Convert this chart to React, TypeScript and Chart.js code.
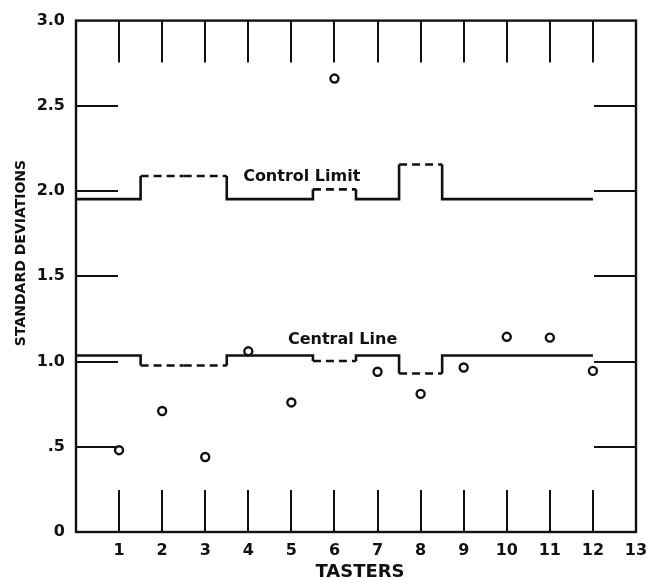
import React, { useEffect, useRef } from 'react';
import { Chart, registerables } from 'chart.js';

Chart.register(...registerables);

// ---- Data ----
const tasters = [1, 2, 3, 4, 5, 6, 7, 8, 9, 10, 11, 12];
const tasterSD = [0.48, 0.71, 0.44, 1.06, 0.76, 2.66, 0.94, 0.81, 0.965, 1.145, 1.14, 0.945];
const controlLimit = [1.953, 2.088, 2.088, 1.953, 1.953, 2.01, 1.953, 2.156, 1.953, 1.953, 1.953, 1.953];
const centralLine = [1.035, 0.977, 0.977, 1.035, 1.035, 1.003, 1.035, 0.93, 1.035, 1.035, 1.035, 1.035];
const dashedTaster = [false, true, true, false, false, true, false, true, false, false, false, false];
const xTicks = [1, 2, 3, 4, 5, 6, 7, 8, 9, 10, 11, 12, 13];
const yTicks = [0, 0.5, 1.0, 1.5, 2.0, 2.5, 3.0];
const yTickLabels = ['0', '.5', '1.0', '1.5', '2.0', '2.5', '3.0'];
const innerYTicks = [0.5, 1.0, 1.5, 2.0, 2.5];
const innerXTicks = [1, 2, 3, 4, 5, 6, 7, 8, 9, 10, 11, 12];

const FONT = '"DejaVu Sans", "Liberation Sans", sans-serif';
const INK = '#111';

function buildSteps(vals: number[]) {
  const pts: { x: number; y: number }[] = [];
  const dash: boolean[] = [];
  vals.forEach((v, i) => {
    const x0 = i === 0 ? 0 : tasters[i] - 0.5;
    const x1 = i === vals.length - 1 ? tasters[i] : tasters[i] + 0.5;
    pts.push({ x: x0, y: v }, { x: x1, y: v });
    dash.push(dashedTaster[i], false);
  });
  return { pts, dash };
}

const decor = {
  id: 'decor',
  beforeDatasetsDraw(chart: any) {
    const { ctx, chartArea: a, scales } = chart;
    const xs = scales.x;
    const ys = scales.y;
    const len = 42;
    ctx.save();
    ctx.strokeStyle = INK;
    ctx.lineWidth = 2;
    ctx.lineCap = 'butt';
    ctx.beginPath();
    innerYTicks.forEach((v) => {
      const y = Math.round(ys.getPixelForValue(v));
      ctx.moveTo(a.left, y);
      ctx.lineTo(a.left + len, y);
      ctx.moveTo(a.right - len, y);
      ctx.lineTo(a.right, y);
    });
    innerXTicks.forEach((v) => {
      const x = Math.round(xs.getPixelForValue(v));
      ctx.moveTo(x, a.top);
      ctx.lineTo(x, a.top + len);
      ctx.moveTo(x, a.bottom - len);
      ctx.lineTo(x, a.bottom);
    });
    ctx.stroke();
    ctx.lineWidth = 2.4;
    ctx.strokeRect(a.left, a.top, a.right - a.left, a.bottom - a.top);
    ctx.restore();
  },
  afterDraw(chart: any) {
    const { ctx, scales } = chart;
    const xs = scales.x;
    const ys = scales.y;
    ctx.save();
    ctx.fillStyle = INK;
    // annotations
    ctx.font = `bold 16px ${FONT}`;
    ctx.textAlign = 'left';
    ctx.textBaseline = 'middle';
    ctx.fillText('Control Limit', xs.getPixelForValue(3.88), ys.getPixelForValue(2.085));
    ctx.fillText('Central Line', xs.getPixelForValue(4.92), ys.getPixelForValue(1.13));
    // x title
    ctx.font = `bold 18px ${FONT}`;
    ctx.textAlign = 'center';
    ctx.textBaseline = 'alphabetic';
    ctx.fillText('TASTERS', 360, 577);
    // y title
    ctx.translate(21, 253);
    ctx.rotate(-Math.PI / 2);
    ctx.font = `bold 14px ${FONT}`;
    ctx.textBaseline = 'middle';
    ctx.fillText('STANDARD DEVIATIONS', 0, 0);
    ctx.restore();
  },
};

export default function App() {
  const ref = useRef<HTMLCanvasElement | null>(null);

  useEffect(() => {
    const canvas = ref.current;
    if (!canvas) return;
    const ctl = buildSteps(controlLimit);
    const cen = buildSteps(centralLine);
    const lineDs = (s: { pts: any[]; dash: boolean[] }) => ({
      type: 'line' as const,
      data: s.pts,
      borderColor: INK,
      borderWidth: 2.6,
      pointRadius: 0,
      fill: false,
      tension: 0,
      borderJoinStyle: 'miter' as const,
      borderCapStyle: 'butt' as const,
      segment: {
        borderDash: (c: any) => (s.dash[c.p0DataIndex] ? [8, 5] : []),
      },
    });
    const chart = new Chart(canvas, {
      type: 'scatter',
      data: {
        datasets: [
          lineDs(ctl) as any,
          lineDs(cen) as any,
          {
            type: 'scatter',
            data: tasters.map((x, i) => ({ x, y: tasterSD[i] })),
            pointRadius: 4,
            pointBorderWidth: 2.4,
            pointBackgroundColor: '#fff',
            pointBorderColor: INK,
            showLine: false,
          },
        ],
      },
      options: {
        animation: false,
        responsive: true,
        maintainAspectRatio: false,
        layout: { padding: { left: 0, top: 18, right: 0, bottom: 0 } },
        plugins: { legend: { display: false }, tooltip: { enabled: false } },
        scales: {
          x: {
            type: 'linear',
            min: 0,
            max: 13,
            afterBuildTicks: (s: any) => {
              s.ticks = xTicks.map((v) => ({ value: v }));
            },
            afterFit: (s: any) => {
              s.height = 46;
              s.paddingRight = 11;
              s.paddingLeft = 0;
            },
            grid: { display: false, drawTicks: false },
            border: { display: false },
            ticks: {
              color: INK,
              padding: 9,
              maxRotation: 0,
              autoSkip: false,
              font: { family: FONT, size: 16, weight: 'bold' },
            },
          },
          y: {
            type: 'linear',
            min: 0,
            max: 3,
            afterBuildTicks: (s: any) => {
              s.ticks = yTicks.map((v) => ({ value: v }));
            },
            afterFit: (s: any) => {
              s.width = 76;
            },
            grid: { display: false, drawTicks: false },
            border: { display: false },
            ticks: {
              color: INK,
              padding: 11,
              autoSkip: false,
              font: { family: FONT, size: 16, weight: 'bold' },
              callback: (v: any) => {
                const i = yTicks.indexOf(Number(v));
                return i >= 0 ? yTickLabels[i] : '';
              },
            },
          },
        },
      },
      plugins: [decor],
    });
    return () => chart.destroy();
  }, []);

  return (
    <div style={{ position: 'absolute', left: 0, top: 0, width: 647, height: 578, background: '#fff' }}>
      <canvas ref={ref} />
    </div>
  );
}
